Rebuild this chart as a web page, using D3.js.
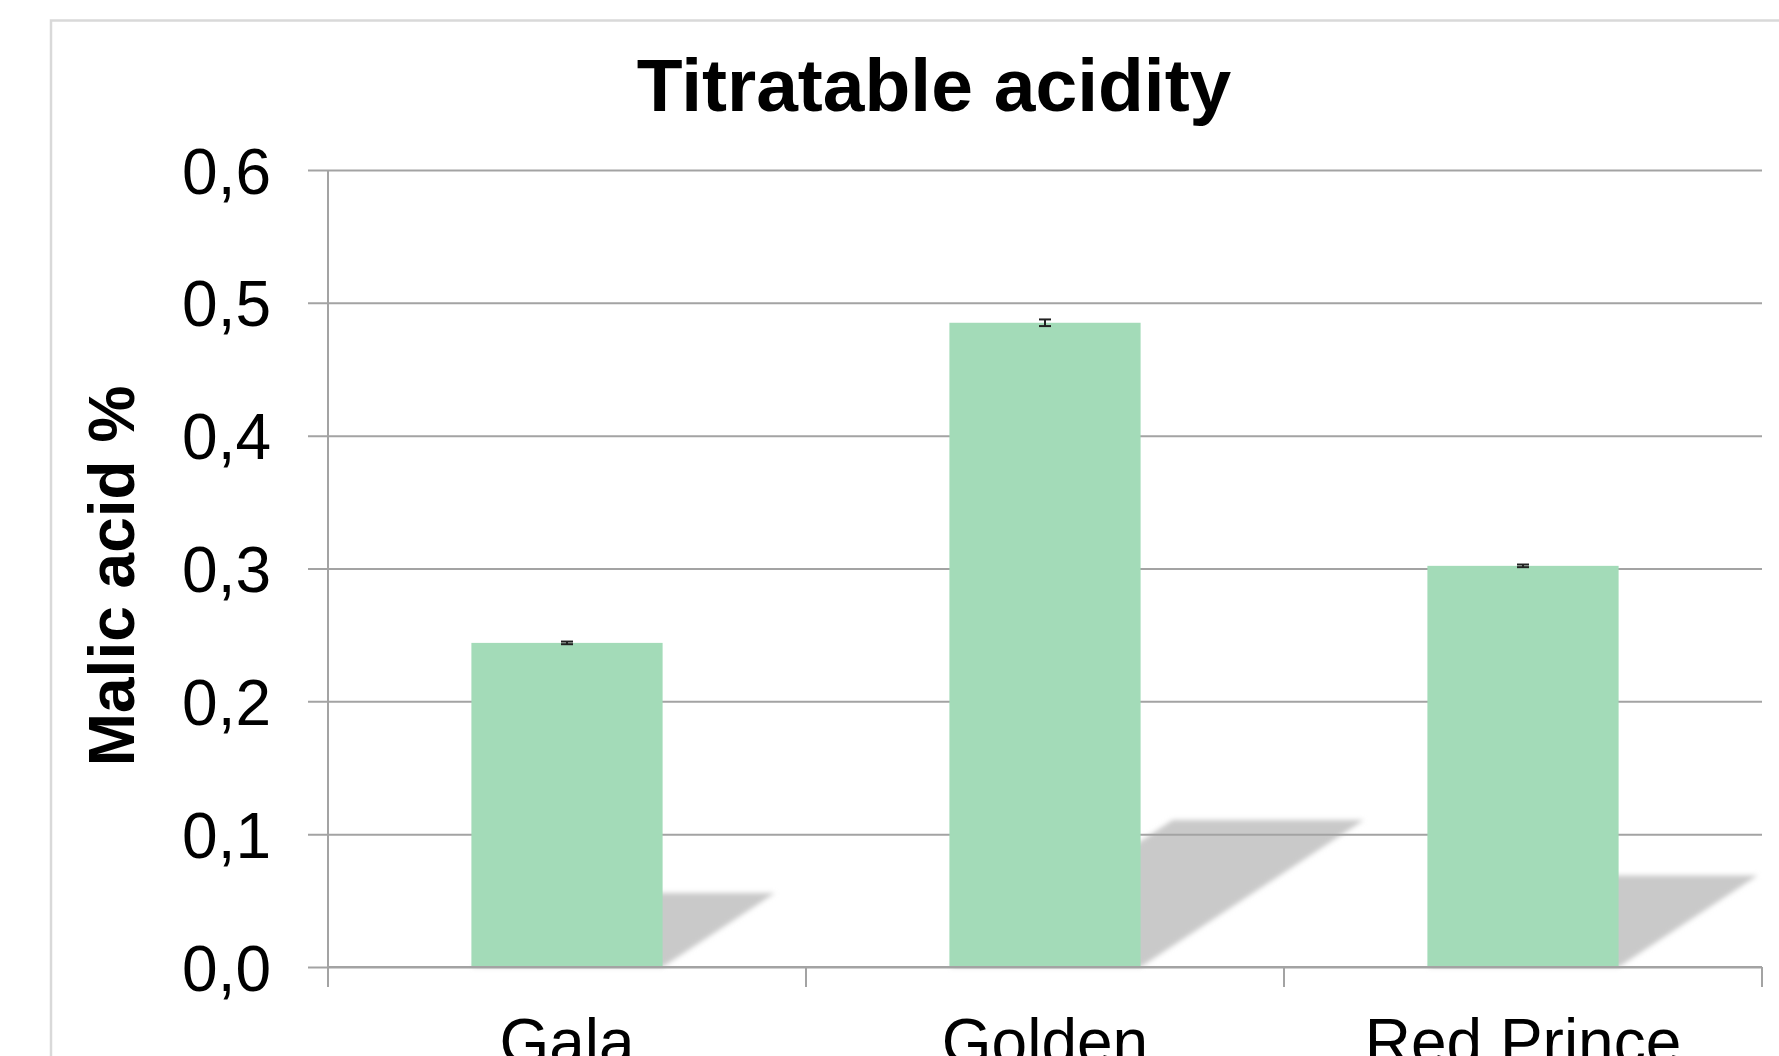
<!DOCTYPE html>
<html>
<head>
<meta charset="utf-8">
<script src="https://cdn.jsdelivr.net/npm/d3@7"></script>
<style>
html,body{margin:0;padding:0;background:#fff;overflow:hidden;}
svg{display:block;font-family:"Liberation Sans",Arial,sans-serif;}
</style>
</head>
<body>
<svg id="chart" width="1779" height="1056"></svg>
<script>
const categories = ["Gala", "Golden", "Red Prince"];
const values = [0.244, 0.485, 0.302];
const errors = [0.001, 0.0025, 0.001];
const yTicks = [0, 0.1, 0.2, 0.3, 0.4, 0.5, 0.6];
const title = "Titratable acidity";
const yTitle = "Malic acid %";

const W = 1779, H = 1056;
const plot = {left: 328, right: 1762, top: 170, bottom: 967};
const svg = d3.select("#chart");

const locale = d3.formatLocale({decimal: ",", thousands: ".", grouping: [3], currency: ["", "€"]});
const fmt = locale.format(".1f");

const x = d3.scaleBand().domain(categories).range([plot.left, plot.right]).paddingInner(0.6).paddingOuter(0.3);
const xBoundary = d3.scaleLinear().domain([0, categories.length]).range([plot.left, plot.right]);
const y = d3.scaleLinear().domain([0, 0.6]).range([plot.bottom, plot.top]);

const defs = svg.append("defs");
defs.append("filter").attr("id", "blur").attr("x", "-20%").attr("y", "-20%").attr("width", "140%").attr("height", "140%")
  .append("feGaussianBlur").attr("stdDeviation", 2.5);

// chart area border
svg.append("rect").attr("x", 51).attr("y", 20.5).attr("width", W + 20).attr("height", H + 20)
  .attr("fill", "#fff").attr("stroke", "#d9d9d9").attr("stroke-width", 2.5);

// shadows
const shadowRatio = 0.228, shear = 1.52;
svg.append("g").attr("filter", "url(#blur)").selectAll("path").data(categories).join("path")
  .attr("d", (d, i) => {
    const x0 = x(d), x1 = x(d) + x.bandwidth();
    const base = y(0);
    const h = (y(0) - y(values[i])) * shadowRatio;
    const s = h * shear;
    return `M${x0},${base}L${x1},${base}L${x1 + s},${base - h}L${x0 + s},${base - h}Z`;
  })
  .attr("fill", "#c9c9c9");

// gridlines
const yAxis = d3.axisLeft(y).tickValues(yTicks).tickFormat(fmt).tickSize(plot.right - plot.left + 20).tickPadding(37);
const gy = svg.append("g").attr("transform", `translate(${plot.right},0)`).call(yAxis);
gy.select(".domain").remove();
gy.selectAll(".tick line").attr("stroke", "#a3a3a3").attr("stroke-width", 2);
gy.selectAll(".tick text").attr("font-size", 64).attr("fill", "#000")
  .attr("x", -(plot.right - plot.left) - 57).attr("dy", "0.36em");

// bars
svg.append("g").selectAll("rect").data(categories).join("rect")
  .attr("x", d => x(d)).attr("width", x.bandwidth())
  .attr("y", (d, i) => y(values[i])).attr("height", (d, i) => y(0) - y(values[i]))
  .attr("fill", "#a3dbb8");

// y axis line
svg.append("line").attr("x1", plot.left).attr("x2", plot.left).attr("y1", plot.top).attr("y2", plot.bottom + 20)
  .attr("stroke", "#a3a3a3").attr("stroke-width", 2);
// x axis line
svg.append("line").attr("x1", plot.left).attr("x2", plot.right).attr("y1", plot.bottom).attr("y2", plot.bottom)
  .attr("stroke", "#a3a3a3").attr("stroke-width", 2);
// x boundary ticks
svg.append("g").selectAll("line").data(d3.range(categories.length + 1)).join("line")
  .attr("x1", d => xBoundary(d)).attr("x2", d => xBoundary(d))
  .attr("y1", plot.bottom).attr("y2", plot.bottom + 20)
  .attr("stroke", "#a3a3a3").attr("stroke-width", 2);

// x labels
svg.append("g").selectAll("text").data(categories).join("text")
  .attr("x", d => x(d) + x.bandwidth() / 2).attr("y", 1064)
  .attr("text-anchor", "middle").attr("font-size", 64).attr("fill", "#000")
  .text(d => d);

// error bars
const eg = svg.append("g").attr("stroke", "#222").attr("stroke-width", 2);
categories.forEach((d, i) => {
  const cx = x(d) + x.bandwidth() / 2;
  const yt = y(values[i] + errors[i]), yb = y(values[i] - errors[i]);
  eg.append("line").attr("x1", cx).attr("x2", cx).attr("y1", yt).attr("y2", yb);
  eg.append("line").attr("x1", cx - 6).attr("x2", cx + 6).attr("y1", yt).attr("y2", yt);
  eg.append("line").attr("x1", cx - 6).attr("x2", cx + 6).attr("y1", yb).attr("y2", yb);
});

// title
svg.append("text").attr("x", 934).attr("y", 111).attr("text-anchor", "middle")
  .attr("font-size", 75).attr("font-weight", "bold").attr("fill", "#000").text(title);

// y title
svg.append("text").attr("transform", "translate(134,576) rotate(-90)").attr("text-anchor", "middle")
  .attr("font-size", 64).attr("font-weight", "bold").attr("fill", "#000").text(yTitle);
</script>
</body>
</html>
